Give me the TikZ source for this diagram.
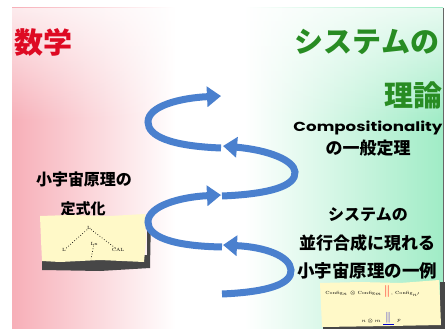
\documentclass[tikz,border=0pt]{standalone}
\usepackage{fontspec}
\usetikzlibrary{arrows.meta,fadings}
\newfontfamily\jp{Noto Sans CJK JP}
\newfontfamily\rnd{Poppins}
\definecolor{redc}{RGB}{222,10,35}
\definecolor{greenc}{RGB}{40,140,35}
\definecolor{bluec}{RGB}{74,128,206}
\definecolor{pinkc}{RGB}{247,175,184}
\definecolor{mintc}{RGB}{160,236,198}
\definecolor{paperc}{RGB}{255,249,200}
\pgfdeclarehorizontalshading{bgshade}{100bp}{color(0bp)=(pinkc); color(25bp)=(pinkc); color(44bp)=(white); color(52bp)=(white); color(75bp)=(mintc); color(100bp)=(mintc)}
\tikzfading[name=fadedown, top color=transparent!0, bottom color=transparent!100]
\tikzset{
  bigred/.style={font=\jp\bfseries\fontsize{29}{30}\selectfont, text=redc, inner sep=0pt},
  biggreen/.style={font=\jp\bfseries\fontsize{29}{30}\selectfont, text=greenc, inner sep=0pt},
  jtext/.style={font=\jp\bfseries\fontsize{17}{18}\selectfont, text=black, inner sep=0pt},
  spiralarrow/.style={line width=7pt, draw=bluec, -{Triangle[width=20pt,length=14pt]}},
  paper/.style={fill=paperc},
  papershadow/.style={fill=black!72},
  tiny/.style={font=\fontsize{4.5}{5}\selectfont, inner sep=0pt},
}
\begin{document}
\begin{tikzpicture}[x=1pt,y=-1pt]
\useasboundingbox (0,0) rectangle (445,329);
\fill[white] (0,0) rectangle (445,329);
% background
\shade[shading=bgshade] (12,8) rectangle (443,329);
\fill[white, path fading=fadedown, opacity=0.75] (12,8) rectangle (443,120);
\draw[black!60, line width=1.5pt] (443.5,8) -- (443.5,329);

% titles
\node[bigred] (math) at (44,42) {数学};
\node[biggreen] (sys) at (367,42) {システムの};
\node[biggreen] (riron) at (413,95) {理論};

% right texts
\node[inner sep=0pt] (comp) at (368,128) {\resizebox{149pt}{10.5pt}{\rnd\bfseries Compositionality}};
\node[jtext] (gen) at (368,148) {の一般定理};
\node[jtext, font=\jp\bfseries\fontsize{16}{17}\selectfont] (sys2) at (368,215) {システムの};
\node[jtext] (par) at (367,243) {並行合成に現れる};
\node[jtext, font=\jp\bfseries\fontsize{17.5}{18}\selectfont] (ex) at (367,271) {小宇宙原理の一例};

% left texts
\node[jtext, font=\jp\bfseries\fontsize{16}{17}\selectfont] (mic) at (84,179) {小宇宙原理の};
\node[jtext, font=\jp\bfseries\fontsize{15}{16}\selectfont] (form) at (83,209) {定式化};

% left note
\fill[papershadow] (42,257) -- (147,255) -- (147,214) -- (151,216) -- (150,268) -- (100,271) -- (42,270) -- cycle;
\fill[paper] (40,216) -- (70,215) -- (110,216) -- (145,214) -- (146,240) -- (144,262) -- (100,260) -- (60,262) -- (42,261) -- (41,240) -- cycle;
\node[tiny] (lt) at (89,228) {L};
\node[tiny] (ll) at (64,250) {L};
\node[tiny] (lm) at (94,244) {Lx};
\node[tiny] (lr) at (118,250) {CAL};
\draw[dotted, line width=0.7pt] (lt) -- (ll);
\draw[dotted, line width=0.7pt] (lt) -- (lr);
\draw[dotted, line width=0.7pt] (lm) -- (91,259);

% right note
\fill[papershadow] (323,324) -- (440,322) -- (440,282) -- (445,282) -- (445,329) -- (323,329) -- cycle;
\fill[paper] (320,283) -- (360,282) -- (400,283) -- (439,280) -- (440,300) -- (441,325) -- (390,326) -- (322,327) -- (321,305) -- cycle;
\node[tiny, anchor=east] (c1) at (382,293) {Config$_n$ $\otimes$ Config$_m$};
\node[inner sep=0pt, text=red, font=\bfseries\fontsize{12}{12}\selectfont] (r1) at (387,291) {$\|$};
\node[tiny, anchor=west] (c2) at (391,294) {, Config$_{n'}$};
\node[tiny, anchor=east] (d1) at (381,321) {$n\otimes m$};
\node[inner sep=0pt, text=blue!80!black, font=\fontsize{11}{11}\selectfont] (b1) at (388,318) {$\|$};
\draw[blue!80!black, line width=0.8pt] (383,324) -- (394,324);
\node[tiny, anchor=west] (d2) at (397,321) {$p$};

% spiral
\draw[spiralarrow] (222,294) .. controls (268,292) and (292,284) .. (291,270) .. controls (290,256) and (265,247) .. (223,245);
\draw[spiralarrow] (222,247) .. controls (170,246) and (148,236) .. (148,222) .. controls (148,206) and (180,197) .. (221,195);
\draw[spiralarrow] (222,196) .. controls (270,194) and (296,186) .. (295,172) .. controls (294,160) and (268,150) .. (223,146);
\draw[spiralarrow] (221,148) .. controls (170,146) and (148,136) .. (148,122) .. controls (148,106) and (180,98) .. (221,96);
\end{tikzpicture}
\end{document}
